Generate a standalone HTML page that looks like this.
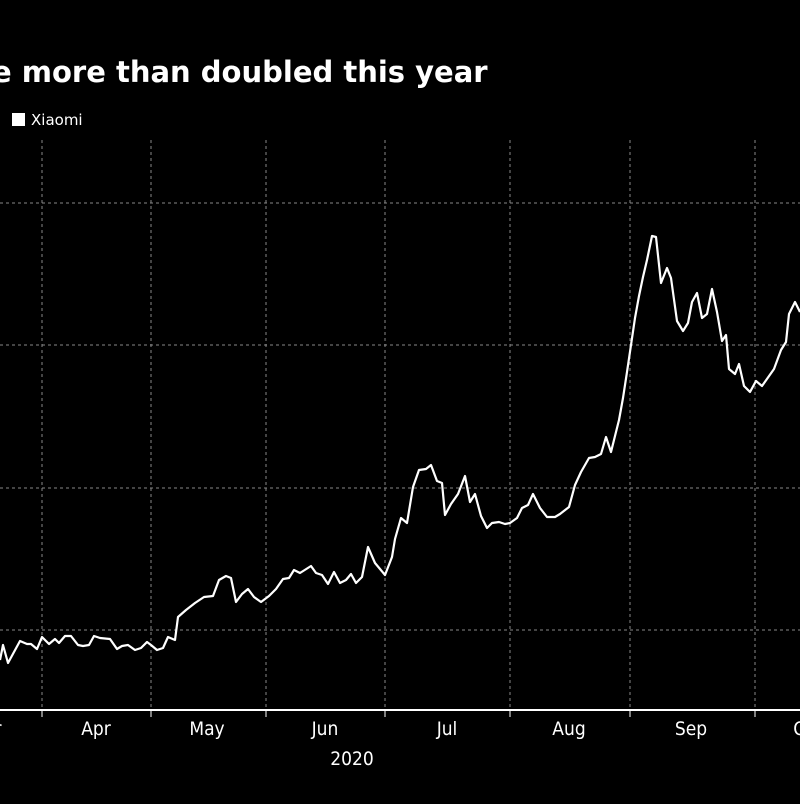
<!DOCTYPE html>
<html><head><meta charset="utf-8"><style>
html,body{margin:0;padding:0;background:#000;}
body{width:800px;height:800px;overflow:hidden;position:relative;font-family:"DejaVu Sans","Liberation Sans",sans-serif;}
</style></head><body>
<svg width="800" height="800" viewBox="0 0 800 800" xmlns="http://www.w3.org/2000/svg">
<rect width="800" height="800" fill="#000"/>
<text x="-8" y="82" fill="#fff" font-size="29" font-weight="bold" font-family="DejaVu Sans, sans-serif">e more than doubled this year</text>
<rect x="12" y="113" width="13" height="13" fill="#fff"/>
<text x="31" y="125" fill="#fff" font-size="15" font-family="DejaVu Sans, sans-serif">Xiaomi</text>
<g stroke="#888" stroke-width="1" stroke-dasharray="3,3">
<line x1="0" y1="203" x2="800" y2="203"/>
<line x1="0" y1="345" x2="800" y2="345"/>
<line x1="0" y1="488" x2="800" y2="488"/>
<line x1="0" y1="630" x2="800" y2="630"/>
<line x1="42" y1="140" x2="42" y2="710"/>
<line x1="151" y1="140" x2="151" y2="710"/>
<line x1="266" y1="140" x2="266" y2="710"/>
<line x1="385" y1="140" x2="385" y2="710"/>
<line x1="510" y1="140" x2="510" y2="710"/>
<line x1="630" y1="140" x2="630" y2="710"/>
<line x1="755" y1="140" x2="755" y2="710"/>
</g>
<line x1="0" y1="710" x2="800" y2="710" stroke="#fff" stroke-width="2"/>
<g stroke="#fff" stroke-width="1">
<line x1="42" y1="710" x2="42" y2="717"/><line x1="151" y1="710" x2="151" y2="717"/>
<line x1="266" y1="710" x2="266" y2="717"/><line x1="385" y1="710" x2="385" y2="717"/>
<line x1="510" y1="710" x2="510" y2="717"/><line x1="630" y1="710" x2="630" y2="717"/>
<line x1="755" y1="710" x2="755" y2="717"/>
</g>
<g fill="#fff" font-size="19" font-family="DejaVu Sans Condensed, DejaVu Sans, sans-serif" text-anchor="middle">
<text x="-2" y="735">r</text>
<text x="96" y="735">Apr</text>
<text x="207" y="735">May</text>
<text x="325" y="735">Jun</text>
<text x="447" y="735">Jul</text>
<text x="569" y="735">Aug</text>
<text x="691" y="735">Sep</text>
<text x="800" y="735">O</text>
<text x="352" y="765">2020</text>
</g>
<polyline fill="none" stroke="#fff" stroke-width="2.2" stroke-linejoin="round" points="
0,660 3,645 8,663 20,641 27,644 31,644 37,649 42,637 49,644 55,639 59,643 65,636 71,636 78,645 83,646 89,645 94,636 100,638 110,639 117,649 122,646 128,645 135,650 141,648 147,642 151,645 157,650 163,648 168,637 175,640 178,617 186,610 195,603 204,597 213,596 219,580 226,576 231,578 236,602 242,594 248,589 254,597 261,602 269,596 276,589 283,579 289,578 294,570 300,573 311,566 316,573 322,575 328,584 334,572 340,583 346,580 351,574 356,583 362,577 368,547 375,563 385,575 392,557 395,539 401,518 407,523 413,487 419,470 426,469 431,465 437,481 442,483 445,515 451,504 458,494 465,476 470,502 475,494 481,516 487,528 492,523 499,522 505,524 510,523 517,518 522,508 528,505 533,494 540,508 547,517 555,517 560,514 569,507 575,485 581,472 589,458 595,457 601,454 606,437 611,452 619,420 623,398 627,372 631,345 635,318 639,296 643,277 647,260 652,236 656,237 661,283 667,268 671,278 677,321 683,331 688,323 692,302 697,293 702,318 707,314 712,289 717,312 722,341 726,335 729,369 735,374 739,364 744,386 750,392 756,381 762,386 774,369 781,350 786,342 789,314 795,302 800,312"/>
</svg>
</body></html>
